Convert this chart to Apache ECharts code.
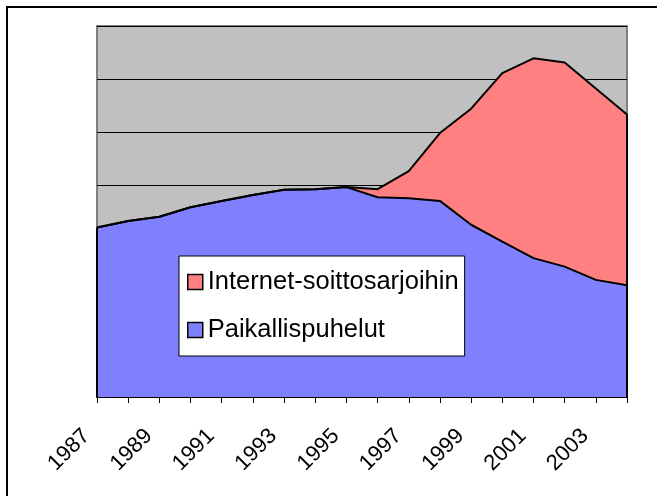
<!DOCTYPE html>
<html>
<head>
<meta charset="utf-8">
<script src="https://cdn.jsdelivr.net/npm/echarts@6/dist/echarts.min.js"></script>
<style>
  html, body { margin: 0; padding: 0; background: #fff; }
  #chart { width: 657px; height: 496px; }
</style>
</head>
<body>
<div id="chart"></div>
<script>
// vuodet 1987-2004
var years = ['1987', '1988', '1989', '1990', '1991', '1992', '1993', '1994', '1995',
             '1996', '1997', '1998', '1999', '2000', '2001', '2002', '2003', '2004'];

// paikallispuhelut (alempi alue)
var paikallis = [3.20, 3.32, 3.40, 3.58, 3.70, 3.81, 3.91, 3.92, 3.96,
                 3.77, 3.75, 3.70, 3.25, 2.93, 2.62, 2.46, 2.21, 2.11];

// internet-soittosarjat (pinottu päälle)
var internet = [0, 0, 0, 0, 0, 0, 0, 0, 0,
                0.15, 0.51, 1.28, 2.19, 3.18, 3.77, 3.85, 3.61, 3.22];

var chart = echarts.init(document.getElementById('chart'));

var lastIdx = years.length - 1;

var option = {
    animation: false,
    textStyle: { fontFamily: 'Liberation Sans, Arial, sans-serif' },
    graphic: [{
        type: 'rect',
        shape: { x: 7, y: 7, width: 800, height: 800 },
        style: { fill: 'none', stroke: '#000', lineWidth: 2 },
        silent: true
    }],
    grid: {
        left: 97, top: 26, right: 30, bottom: 99,
        show: true,
        backgroundColor: '#c0c0c0',
        borderColor: '#808080',
        borderWidth: 2
    },
    legend: {
        left: 179, top: 256,
        orient: 'vertical',
        backgroundColor: '#fff',
        borderColor: '#000',
        borderWidth: 1,
        padding: [13, 6, 13, 8],
        itemGap: 22,
        itemWidth: 15, itemHeight: 15,
        icon: 'rect',
        textStyle: { fontSize: 25.5, color: '#000' },
        data: [
            { name: 'Internet-soittosarjoihin', itemStyle: { borderColor: '#000', borderWidth: 1.5 } },
            { name: 'Paikallispuhelut', itemStyle: { borderColor: '#000', borderWidth: 1.5 } }
        ]
    },
    xAxis: {
        type: 'category',
        data: years,
        boundaryGap: false,
        axisLine: { lineStyle: { color: '#000', width: 2 } },
        axisTick: { show: true, interval: 0, length: 6, lineStyle: { color: '#000' } },
        axisLabel: {
            interval: 1,
            rotate: 45,
            margin: 25,
            padding: [0, 15, 0, 0],
            fontSize: 22,
            color: '#000'
        },
        splitLine: { show: false }
    },
    yAxis: {
        type: 'value',
        min: 0, max: 7, interval: 1,
        axisLine: { show: false },
        axisTick: { show: false },
        axisLabel: { show: false },
        splitLine: { show: true, lineStyle: { color: '#000', width: 1 } }
    },
    series: [
        {
            name: 'Paikallispuhelut',
            type: 'line',
            stack: 'yht',
            data: paikallis,
            symbol: 'none',
            color: '#8080ff',
            lineStyle: { color: '#000', width: 2 },
            areaStyle: { color: '#8080ff', opacity: 1 }
        },
        {
            name: 'Internet-soittosarjoihin',
            type: 'line',
            stack: 'yht',
            data: internet,
            symbol: 'none',
            color: '#ff8080',
            lineStyle: { color: '#000', width: 2 },
            areaStyle: { color: '#ff8080', opacity: 1 },
            markLine: {
                silent: true,
                symbol: 'none',
                label: { show: false },
                lineStyle: { color: '#000', width: 2, type: 'solid' },
                data: [
                    [{ coord: [years[0], 0] }, { coord: [years[0], paikallis[0] + internet[0]] }],
                    [{ coord: [years[lastIdx], 0] }, { coord: [years[lastIdx], paikallis[lastIdx] + internet[lastIdx]] }]
                ]
            }
        }
    ]
};

chart.setOption(option);
</script>
</body>
</html>
